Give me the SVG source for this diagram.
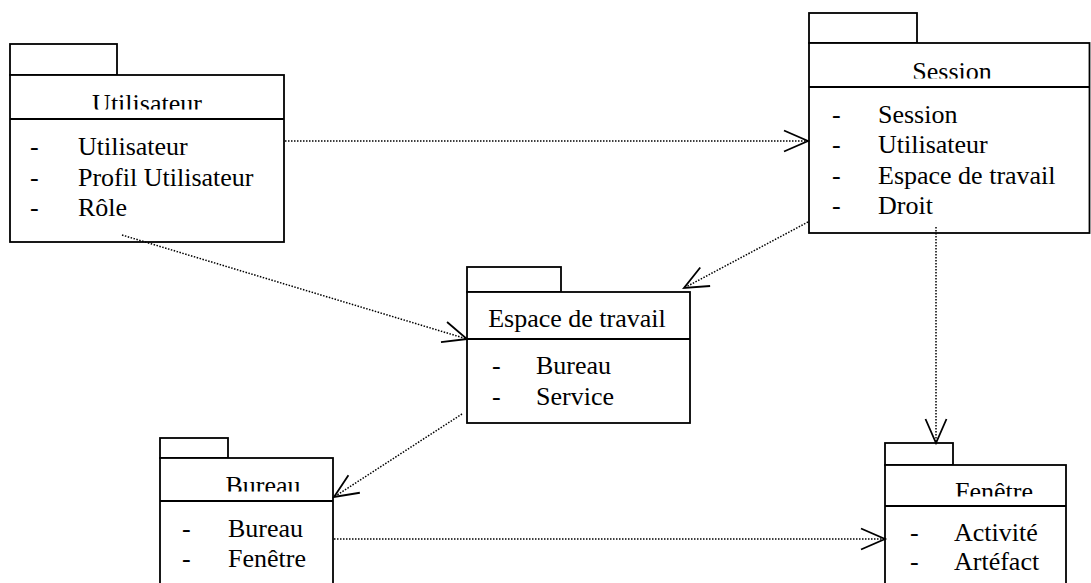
<svg xmlns="http://www.w3.org/2000/svg" width="1091" height="583" viewBox="0 0 1091 583">
  <style>
    .box { fill: #fff; stroke: #000; stroke-width: 1.8; }
    .div { stroke: #000; stroke-width: 1.8; }
    .t { font-family: "Liberation Serif", "Times New Roman", serif; font-size: 26px; fill: #000; }
    .title { text-anchor: middle; }
    .dep { fill: none; stroke: #000; stroke-width: 1.5; stroke-dasharray: 1.5 1.5; marker-end: url(#open); }
  </style>
  <defs>
    <marker id="open" markerUnits="userSpaceOnUse" markerWidth="40" markerHeight="40" viewBox="-30 -20 40 40" refX="0" refY="0" orient="auto" overflow="visible">
      <path d="M -24 -10.5 L 0 0 L -24 10.5" fill="none" stroke="#000" stroke-width="1.8" stroke-dasharray="none"/>
    </marker>
    <!-- package titles are cut off at the bottom of their header band -->
    <clipPath id="clipUser"><rect x="10" y="75" width="274" height="34.5"/></clipPath>
    <clipPath id="clipSession"><rect x="809" y="43" width="281" height="35.5"/></clipPath>
    <clipPath id="clipBureau"><rect x="160" y="458" width="173" height="33.5"/></clipPath>
    <clipPath id="clipFenetre"><rect x="885" y="465" width="181" height="31.5"/></clipPath>
  </defs>

  <g id="node-utilisateur">
    <rect class="box" x="10" y="44" width="107" height="31"/>
    <rect class="box" x="10" y="75" width="274" height="167"/>
    <line class="div" x1="10" y1="119" x2="284" y2="119"/>
    <text class="t title" x="147" y="112" clip-path="url(#clipUser)">Utilisateur</text>
    <text class="t" x="30" y="155">-</text><text class="t" x="78" y="155">Utilisateur</text>
    <text class="t" x="30" y="185.5">-</text><text class="t" x="78" y="185.5">Profil Utilisateur</text>
    <text class="t" x="30" y="215.5">-</text><text class="t" x="78" y="215.5">Rôle</text>
  </g>

  <g id="node-session">
    <rect class="box" x="809" y="13" width="108" height="30"/>
    <rect class="box" x="809" y="43" width="280.5" height="190"/>
    <line class="div" x1="809" y1="87" x2="1089.5" y2="87"/>
    <text class="t title" x="952" y="80" clip-path="url(#clipSession)">Session</text>
    <text class="t" x="832" y="122.5">-</text><text class="t" x="878" y="122.5">Session</text>
    <text class="t" x="832" y="153">-</text><text class="t" x="878" y="153">Utilisateur</text>
    <text class="t" x="832" y="183.5">-</text><text class="t" x="878" y="183.5">Espace de travail</text>
    <text class="t" x="832" y="214">-</text><text class="t" x="878" y="214">Droit</text>
  </g>

  <g id="node-espace">
    <rect class="box" x="467" y="267" width="94" height="25"/>
    <rect class="box" x="467" y="292" width="223" height="131"/>
    <line class="div" x1="467" y1="339" x2="690" y2="339"/>
    <text class="t title" x="577" y="327">Espace de travail</text>
    <text class="t" x="492" y="374">-</text><text class="t" x="536" y="374">Bureau</text>
    <text class="t" x="492" y="405">-</text><text class="t" x="536" y="405">Service</text>
  </g>

  <g id="node-bureau">
    <rect class="box" x="160" y="438" width="68" height="20"/>
    <rect class="box" x="160" y="458" width="173" height="130"/>
    <line class="div" x1="160" y1="501" x2="333" y2="501"/>
    <text class="t title" x="263" y="494" clip-path="url(#clipBureau)">Bureau</text>
    <text class="t" x="182" y="537">-</text><text class="t" x="228" y="537">Bureau</text>
    <text class="t" x="182" y="567">-</text><text class="t" x="228" y="567">Fenêtre</text>
  </g>

  <g id="node-fenetre">
    <rect class="box" x="885" y="443" width="68" height="22"/>
    <rect class="box" x="885" y="465" width="181" height="123"/>
    <line class="div" x1="885" y1="506" x2="1066" y2="506"/>
    <text class="t title" x="994" y="500" clip-path="url(#clipFenetre)">Fenêtre</text>
    <text class="t" x="910" y="541">-</text><text class="t" x="954" y="541">Activité</text>
    <text class="t" x="910" y="570">-</text><text class="t" x="954" y="570">Artéfact</text>
  </g>

  <g id="connectors">
    <path class="dep" d="M 285 141 L 808 141"/>
    <path class="dep" d="M 122 235 L 467 339"/>
    <path class="dep" d="M 808 222 L 684 288"/>
    <path class="dep" d="M 462 414 L 334 497"/>
    <path class="dep" d="M 936 227 L 936 443"/>
    <path class="dep" d="M 334 539 L 885 539"/>
  </g>
</svg>
